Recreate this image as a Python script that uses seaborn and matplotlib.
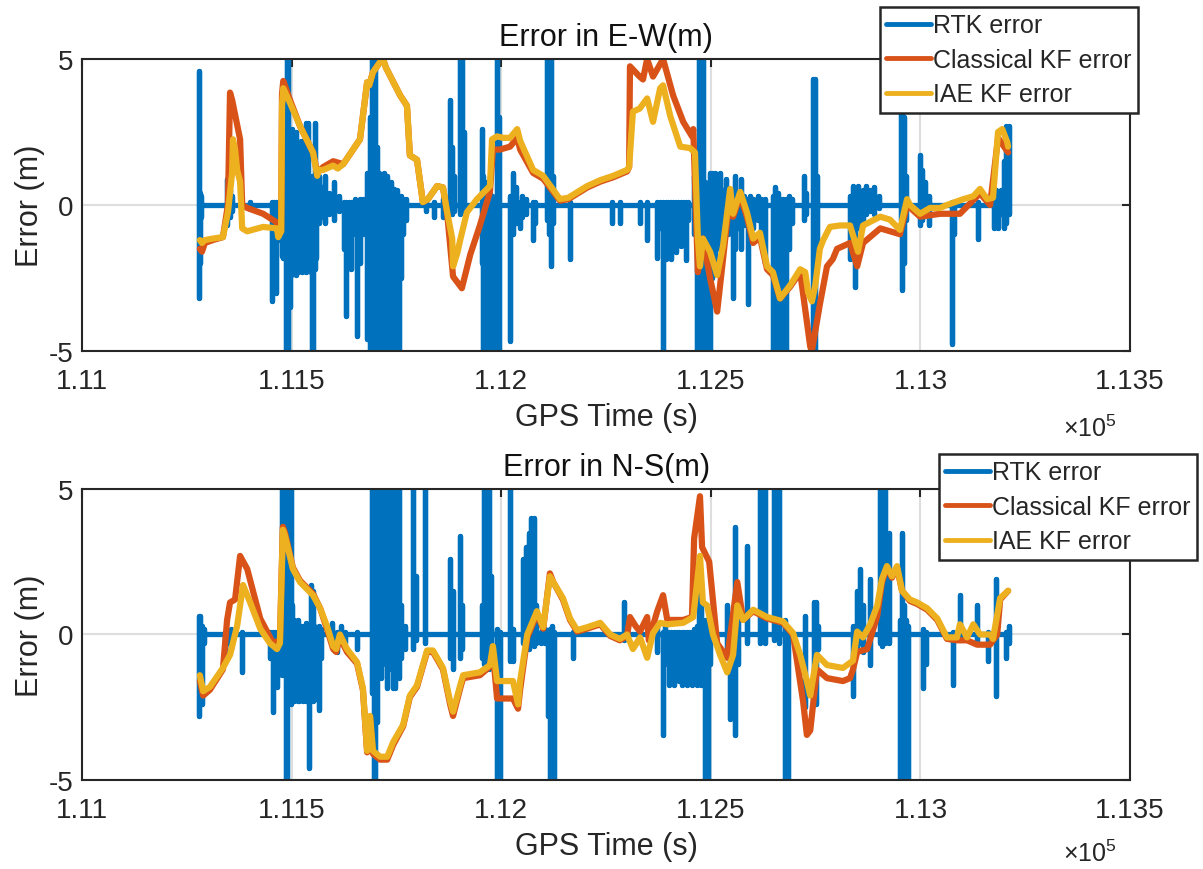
import numpy as np
import matplotlib
matplotlib.use("Agg")
import matplotlib.pyplot as plt
import seaborn as sns

# ---- data ----
# RTK error: dense spiky signal, kept as (GPS time [s], min error, max error) per spike
ew_rtk = [
    (111278, -3.2, 4.6), (111281, -2.0, 0.4), (111284, -0.4, 0.3), (111346, -0.7, 0.9),
    (111352, -0.4, 0.5), (111358, -0.2, 0.3), (111400, -0.15, 0.1), (111452, -3.3, 0.1),
    (111457, -1.5, 0.1), (111463, -3.0, 0.1), (111468, -1.2, 0.1),
    (111477, -1.75, 2.5), (111480, -1.8, 2.8), (111483, -1.7, 3.0), (111486, -5.0, 3.2),
    (111489, -5.0, 5.0), (111492, -5.0, 5.0), (111495, -3.5, 2.5), (111498, -2.4, 2.4),
    (111501, -2.3, 2.6), (111504, -2.3, 2.2), (111507, -2.2, 2.0), (111510, -2.4, 2.5),
    (111513, -2.0, 1.8), (111516, -2.3, 1.6), (111519, -2.2, 1.6), (111522, -1.8, 2.2),
    (111525, -2.3, 1.4), (111528, -1.6, 1.2), (111531, -2.2, 1.3), (111534, -2.3, 2.8),
    (111537, -1.5, 1.0), (111540, -2.0, 2.8), (111543, -1.5, 1.0), (111546, -2.3, 0.8),
    (111549, -5.0, 1.0), (111552, -5.0, 0.8), (111555, -2.2, 2.8), (111558, -1.8, 1.0),
    (111566, -0.6, 1.0), (111572, -0.4, 0.6), (111580, -0.6, 1.0), (111590, -0.3, 0.4),
    (111600, -0.5, 0.8), (111612, -0.2, 0.3), (111625, -1.5, 0.1), (111630, -3.8, 0.1),
    (111636, -1.2, 0.1), (111642, -2.2, 0.1), (111650, -1.0, 0.2), (111656, -4.5, 0.1),
    (111662, -2.0, 0.2), (111670, -1.0, 0.2),
    (111680, -4.6, 1.1), (111684, -2.5, 0.8), (111688, -5.0, 3.0), (111692, -5.0, 5.0),
    (111696, -4.0, 5.0), (111700, -5.0, 5.0), (111704, -3.0, 2.0), (111708, -5.0, 1.1),
    (111712, -2.0, 1.0), (111716, -5.0, 0.8), (111720, -3.5, 1.1), (111724, -5.0, 0.5),
    (111728, -2.0, 1.0), (111732, -5.0, 0.6), (111736, -3.0, 0.8), (111740, -1.5, 0.5),
    (111744, -5.0, 0.55), (111748, -2.0, 0.4), (111752, -3.5, 0.5), (111756, -5.0, 0.3),
    (111760, -2.5, 0.3), (111765, -1.0, 0.2), (111772, -0.5, 0.2),
    (111820, -0.2, 0.1), (111840, -0.4, 0.1), (111862, -0.4, 0.2), (111878, -0.2, 3.6),
    (111882, -0.3, 2.0), (111887, -0.2, 1.0), (111902, -0.3, 5.0), (111906, -0.2, 5.0),
    (111910, -0.1, 2.5), (111953, -2.0, 2.6), (111957, -5.0, 1.0), (111961, -5.0, 0.5),
    (111965, -3.0, 0.8), (111969, -5.0, 0.5), (111973, -4.0, 0.4), (111977, -5.0, 0.3),
    (111990, -5.0, 5.0), (111994, -5.0, 3.0), (112021, -4.65, 0.3), (112027, -1.0, 1.1),
    (112034, -0.6, 0.6), (112045, -0.8, 0.1), (112050, -0.4, 0.3), (112058, -0.3, 0.2),
    (112076, -1.2, 0.1), (112081, -0.6, 0.1), (112110, -0.5, 5.0), (112115, -1.0, 2.0),
    (112119, -2.1, 5.0), (112124, -0.6, 1.0), (112164, -1.85, 0.1), (112263, -0.6, 0.1),
    (112283, -0.6, 0.1), (112331, -0.6, 0.1), (112347, -1.2, 0.1),
    (112372, -1.8, 0.1), (112378, -0.8, 0.1), (112386, -5.0, 0.1), (112392, -1.85, 0.1),
    (112398, -1.5, 0.1), (112404, -1.85, 0.1), (112410, -1.2, 0.1), (112416, -1.6, 0.1),
    (112422, -1.0, 0.1), (112428, -1.4, 0.1), (112434, -0.8, 0.1), (112440, -1.9, 0.1),
    (112446, -0.5, 0.1), (112460, -1.0, 1.0), (112466, -5.0, 1.2), (112471, -5.0, 5.0),
    (112476, -3.0, 5.0), (112481, -5.0, 5.0), (112486, -5.0, 0.8), (112492, -2.0, 0.6),
    (112498, -5.0, 1.1), (112503, -2.5, 1.1), (112510, -2.0, 1.1), (112516, -1.0, 0.8),
    (112522, -1.5, 1.1), (112528, -1.2, 0.5), (112535, -0.8, 0.9), (112542, -1.0, 0.4),
    (112553, -3.2, 0.4), (112557, -1.5, 1.0), (112564, -0.8, 0.3), (112571, -1.5, 0.9),
    (112578, -0.7, 0.3), (112589, -3.4, 0.2), (112594, -1.0, 0.3), (112600, -0.8, 0.2),
    (112612, -0.5, 0.3), (112620, -1.0, 0.2), (112628, -2.0, 0.2), (112648, -5.0, 0.3),
    (112654, -3.0, 0.6), (112660, -5.0, 0.4), (112666, -2.5, 0.2), (112672, -5.0, 0.2),
    (112680, -5.0, 0.2), (112686, -1.5, 0.3), (112694, -0.6, 0.2), (112722, -0.5, 1.0),
    (112728, -0.3, 0.4), (112743, -5.0, 4.3), (112748, -5.0, 4.3), (112752, -2.0, 1.0),
    (112832, -1.85, 0.3), (112838, -0.5, 0.65), (112844, -2.8, 0.5), (112850, -0.8, 0.65),
    (112856, -0.5, 0.3), (112862, -0.7, 0.5), (112870, -0.3, 0.65), (112880, -0.2, 0.5),
    (112890, -0.3, 0.6), (112900, -0.1, 0.3), (112953, -0.5, 4.5), (112957, -2.9, 4.5),
    (112961, -2.0, 3.0), (112966, -0.5, 1.0), (112999, -0.7, 1.7), (113004, -0.5, 1.2),
    (113010, -0.3, 0.8), (113020, -0.7, 0.3), (113075, -4.75, 0.1), (113080, -1.0, 0.1),
    (113136, -1.15, 0.1), (113175, -0.8, 0.3), (113180, -0.5, 0.5), (113186, -0.8, 0.3),
    (113192, -0.3, 0.5), (113200, -0.8, 1.5), (113205, -0.6, 2.7), (113210, -0.3, 2.7),
]

ew_classic = [
    (111281, -1.5), (111286, -1.6), (111293, -1.3), (111312, -1.2), (111336, -1.1), (111348, 0.0),
    (111353, 3.85), (111358, 3.6), (111377, 2.25), (111382, 0.0), (111394, -0.1), (111432, -0.3),
    (111465, -0.6), (111468, -1.0), (111475, -0.9), (111477, 3.8), (111480, 4.25), (111496, 3.6),
    (111520, 2.7), (111551, 1.8), (111561, 1.1), (111575, 1.3), (111599, 1.5), (111623, 1.4),
    (111663, 2.25), (111680, 4.2), (111685, 4.1), (111694, 4.55), (111711, 4.9), (111718, 5.0),
    (111725, 4.7), (111759, 3.75), (111775, 3.4), (111782, 1.7), (111799, 1.55), (111813, 0.1),
    (111825, 0.2), (111847, 0.65), (111861, 0.6), (111871, -0.3), (111885, -2.45), (111906, -2.85),
    (111926, -1.7), (111949, -0.7), (111973, 0.45), (111980, 1.9), (111997, 1.9), (112021, 2.0),
    (112038, 2.3), (112045, 1.9), (112076, 1.1), (112100, 0.9), (112140, 0.15), (112160, 0.2),
    (112205, 0.6), (112236, 0.8), (112267, 0.95), (112300, 1.15), (112305, 1.3), (112307, 4.75),
    (112330, 4.4), (112338, 4.3), (112348, 5.0), (112362, 4.4), (112386, 5.0), (112410, 3.75),
    (112434, 2.85), (112455, 2.35), (112458, 2.6), (112469, -2.3), (112481, -1.15), (112498, -2.5),
    (112515, -3.65), (112529, -1.85), (112546, 0.4), (112553, -0.4), (112570, 0.3), (112586, -0.4),
    (112601, -1.3), (112617, -1.1), (112634, -2.2), (112648, -2.4), (112665, -3.2), (112689, -2.8),
    (112713, -2.3), (112729, -4.0), (112737, -4.85), (112741, -5.0), (112760, -3.4), (112777, -2.1),
    (112791, -1.85), (112801, -1.5), (112832, -1.3), (112849, -2.1), (112863, -1.3), (112904, -0.8),
    (112951, -1.0), (112968, 0.0), (112999, -0.4), (113047, -0.3), (113094, -0.3), (113142, 0.4),
    (113166, 0.0), (113185, 2.3), (113209, 1.8),
]

ew_iae = [
    (111281, -1.2), (111286, -1.3), (111293, -1.2), (111312, -1.15), (111336, -1.1), (111348, -0.25),
    (111358, 1.1), (111360, 2.25), (111365, 1.9), (111370, 1.2), (111377, 0.8), (111382, -0.8),
    (111394, -0.9), (111432, -0.75), (111465, -0.8), (111468, -1.1), (111475, -0.9), (111477, 3.4),
    (111480, 4.0), (111496, 3.5), (111520, 2.7), (111551, 1.8), (111561, 1.0), (111565, 1.2),
    (111575, 1.2), (111599, 1.35), (111610, 1.25), (111623, 1.4), (111663, 2.25), (111680, 4.2),
    (111685, 4.1), (111694, 4.55), (111711, 4.9), (111718, 5.0), (111725, 4.7), (111759, 3.75),
    (111775, 3.4), (111782, 1.7), (111799, 1.55), (111813, 0.1), (111825, 0.2), (111847, 0.65),
    (111861, 0.6), (111871, -0.25), (111883, -1.15), (111885, -2.1), (111895, -1.65), (111902, -1.2),
    (111918, -0.25), (111942, 0.2), (111973, 0.65), (111978, 2.25), (111990, 2.35), (112005, 2.3),
    (112021, 2.3), (112038, 2.6), (112045, 2.2), (112076, 1.2), (112100, 1.0), (112140, 0.2),
    (112160, 0.25), (112205, 0.65), (112236, 0.85), (112267, 1.0), (112300, 1.2), (112305, 1.3),
    (112314, 3.2), (112330, 3.3), (112348, 3.65), (112362, 2.85), (112379, 4.0), (112386, 4.1),
    (112403, 3.05), (112427, 2.0), (112450, 1.95), (112462, 1.8), (112469, -1.15), (112474, -2.1),
    (112481, -1.15), (112498, -1.6), (112515, -2.4), (112529, -1.4), (112546, 0.55), (112553, -0.3),
    (112570, 0.45), (112586, -0.25), (112601, -1.15), (112617, -0.95), (112634, -2.1), (112648, -2.3),
    (112665, -3.2), (112689, -2.75), (112713, -2.2), (112725, -2.3), (112732, -3.0), (112741, -3.3),
    (112749, -2.75), (112760, -1.5), (112768, -1.2), (112784, -0.75), (112808, -0.7), (112832, -0.7),
    (112851, -1.6), (112863, -0.7), (112904, -0.4), (112927, -0.5), (112951, -0.85), (112968, 0.2),
    (112975, 0.0), (112999, -0.3), (113023, -0.1), (113047, -0.1), (113063, 0.0), (113102, 0.2),
    (113126, 0.3), (113142, 0.55), (113159, 0.2), (113173, 0.25), (113185, 2.5), (113195, 2.6),
    (113207, 2.15), (113209, 2.0),
]

ns_rtk = [
    (111278, -2.8, 0.65), (111282, -1.5, 0.65), (111286, -2.4, 0.3), (111292, -0.3, 0.2),
    (111340, -0.6, 0.1), (111346, -0.3, 0.1), (111355, -0.5, 0.2), (111381, -1.3, 0.1),
    (111449, -0.8, 0.1), (111455, -2.65, 0.1), (111460, -1.0, 0.1), (111466, -1.8, 0.1),
    (111478, -1.4, 5.0), (111482, -1.0, 5.0), (111486, -5.0, 5.0), (111490, -5.0, 5.0),
    (111494, -2.0, 5.0), (111498, -2.4, 5.0), (111502, -2.2, 1.0), (111506, -2.3, 0.5),
    (111510, -2.2, 0.3), (111514, -2.3, 0.5), (111518, -2.3, 0.2), (111522, -1.4, 0.3),
    (111526, -2.3, 0.2), (111530, -2.0, 0.3), (111534, -2.3, 0.4), (111538, -1.5, 0.3),
    (111542, -4.6, 0.3), (111546, -2.0, 1.7), (111550, -2.3, 1.5), (111554, -1.8, 0.3),
    (111558, -2.2, 0.2), (111562, -1.0, 0.2), (111566, -2.6, 0.3), (111570, -0.8, 0.2),
    (111596, -0.3, 0.4), (111607, -0.6, 0.1), (111618, -0.2, 0.3), (111628, -0.3, 0.1),
    (111655, -0.5, 0.1), (111692, -2.0, 5.0), (111696, -5.0, 5.0), (111700, -5.0, 5.0),
    (111704, -3.0, 5.0), (111708, -1.5, 5.0), (111712, -1.5, 3.0), (111716, -1.0, 5.0),
    (111727, -1.85, 5.0), (111731, -1.0, 5.0), (111737, -1.2, 2.0), (111742, -1.85, 5.0),
    (111747, -1.85, 5.0), (111752, -1.0, 2.0), (111757, -1.5, 5.0), (111762, -0.8, 1.0),
    (111770, -0.5, 0.3), (111790, -0.5, 5.0), (111796, -0.2, 2.0), (111818, -0.3, 5.0),
    (111878, -0.8, 2.6), (111885, -1.2, 1.5), (111902, -0.8, 3.4), (111907, -0.5, 1.0),
    (111955, -0.8, 1.0), (111960, -1.0, 5.0), (111966, -0.5, 4.0), (111971, -1.2, 5.0),
    (111976, -0.6, 2.0), (111990, -5.0, 0.2), (111997, -5.0, 0.1), (112021, -0.9, 5.0),
    (112029, -0.9, 0.2), (112053, -0.3, 2.6), (112059, -0.2, 3.0), (112065, -0.5, 3.5),
    (112071, -0.3, 4.0), (112077, -0.4, 4.0), (112082, -0.3, 1.0), (112095, -0.3, 0.1),
    (112105, -0.3, 0.2), (112112, -2.8, 0.1), (112116, -5.0, 0.2), (112121, -2.0, 0.3),
    (112126, -5.0, 0.1), (112172, -0.8, 0.1), (112292, -0.2, 1.1), (112372, -0.6, 0.3),
    (112385, -3.45, 0.1), (112390, -1.0, 0.3), (112400, -1.75, 0.1), (112406, -1.2, 0.1),
    (112412, -1.75, 0.1), (112418, -1.0, 0.1), (112424, -1.6, 0.1), (112430, -1.75, 0.1),
    (112436, -1.0, 0.1), (112442, -1.75, 0.1), (112448, -1.2, 0.1), (112454, -1.75, 0.1),
    (112460, -1.2, 0.2), (112466, -1.75, 0.3), (112472, -1.5, 1.7), (112477, -1.75, 1.0),
    (112486, -5.0, 0.5), (112492, -5.0, 0.3), (112498, -1.0, 0.1), (112539, -0.5, 1.0),
    (112546, -2.9, 0.6), (112558, -3.45, 3.7), (112564, -1.0, 1.0), (112587, -0.3, 3.05),
    (112618, -0.3, 5.0), (112624, -0.2, 3.0), (112630, -0.3, 5.0), (112650, -0.2, 5.0),
    (112656, -0.1, 4.0), (112662, -0.3, 5.0), (112677, -5.0, 0.5), (112683, -5.0, 0.2),
    (112724, -2.5, 0.65), (112745, -1.5, 1.1), (112750, -2.4, 1.1), (112756, -0.5, 0.3),
    (112840, -2.1, 0.3), (112848, -0.4, 1.5), (112855, -0.3, 2.25), (112862, -0.6, 1.0),
    (112879, -1.05, 1.9), (112903, -0.3, 5.0), (112909, -0.4, 5.0), (112915, -0.3, 5.0),
    (112921, -0.2, 3.0), (112926, -0.3, 3.5), (112951, -5.0, 0.5), (112955, -5.0, 3.5),
    (112960, -5.0, 1.0), (112965, -3.0, 0.5), (112970, -5.0, 0.3), (113007, -1.85, 0.2),
    (113013, -1.0, 0.1), (113078, -1.75, 0.1), (113094, -0.2, 1.35), (113134, -0.3, 1.0),
    (113160, -0.9, 0.1), (113181, -2.1, 1.9), (113205, -0.8, 0.1), (113210, -0.3, 0.3),
]

ns_classic = [
    (111281, -1.6), (111289, -2.1), (111305, -1.9), (111336, -1.2), (111346, 0.5), (111353, 1.1),
    (111365, 1.2), (111377, 2.7), (111394, 2.25), (111425, 0.55), (111456, -0.3), (111472, -0.2),
    (111479, 3.7), (111484, 3.5), (111503, 2.3), (111520, 1.85), (111551, 1.4), (111568, 0.9),
    (111584, 0.2), (111599, -0.5), (111606, -0.6), (111615, -0.1), (111632, -0.6), (111656, -1.0),
    (111670, -1.9), (111680, -4.05), (111687, -2.9), (111694, -4.1), (111711, -4.3), (111728, -4.3),
    (111742, -3.8), (111766, -3.15), (111782, -2.15), (111799, -1.8), (111823, -0.6), (111837, -0.6),
    (111861, -1.2), (111878, -2.4), (111885, -2.8), (111902, -1.85), (111909, -1.5), (111949, -1.4),
    (111973, -1.1), (111980, -0.6), (111990, -2.2), (112028, -2.2), (112040, -2.55), (112045, -1.9),
    (112062, -0.1), (112085, 0.7), (112100, 0.2), (112116, 2.1), (112124, 1.8), (112147, 1.2),
    (112164, 0.5), (112181, 0.1), (112205, 0.2), (112236, 0.35), (112260, -0.05), (112283, -0.2),
    (112300, -0.05), (112307, 0.6), (112320, 0.3), (112331, 0.1), (112348, 0.6), (112352, -0.2),
    (112372, 0.8), (112386, 1.35), (112396, 0.5), (112434, 0.5), (112455, 0.6), (112460, 3.3),
    (112474, 4.75), (112479, 3.0), (112496, 2.5), (112515, -0.3), (112539, -0.8), (112563, 1.8),
    (112577, 0.5), (112601, 0.8), (112634, 0.55), (112672, 0.4), (112696, 0.0), (112720, -2.3),
    (112729, -3.45), (112737, -3.3), (112753, -1.2), (112777, -1.5), (112815, -1.6), (112832, -1.5),
    (112839, -1.2), (112849, -0.6), (112873, -0.5), (112897, 0.65), (112908, 1.8), (112920, 2.3),
    (112932, 1.95), (112944, 2.3), (112956, 1.5), (112975, 1.15), (112992, 1.05), (113016, 0.85),
    (113040, 0.5), (113063, -0.15), (113087, -0.2), (113111, -0.2), (113135, -0.35), (113166, -0.35),
    (113183, 0.0), (113190, 1.2), (113209, 1.5),
]

ns_iae = [
    (111281, -1.4), (111289, -1.95), (111305, -1.8), (111336, -1.15), (111353, -0.7), (111370, 0.3),
    (111384, 1.7), (111401, 1.1), (111425, 0.2), (111448, -0.3), (111465, -0.5), (111472, -0.3),
    (111479, 3.6), (111484, 3.4), (111503, 2.25), (111520, 1.8), (111551, 1.35), (111568, 0.9),
    (111584, 0.3), (111599, -0.4), (111606, -0.5), (111615, 0.0), (111632, -0.5), (111656, -0.95),
    (111670, -1.85), (111680, -4.0), (111687, -2.8), (111694, -4.0), (111711, -4.2), (111728, -4.2),
    (111742, -3.7), (111766, -3.1), (111782, -2.1), (111799, -1.75), (111823, -0.55), (111837, -0.55),
    (111861, -1.15), (111878, -2.3), (111885, -2.65), (111902, -1.75), (111909, -1.4), (111949, -1.3),
    (111973, -1.05), (111980, -0.4), (111990, -1.6), (112028, -1.6), (112040, -2.4), (112045, -1.6),
    (112062, 0.0), (112085, 0.8), (112100, 0.25), (112116, 2.0), (112124, 1.8), (112147, 1.25),
    (112164, 0.55), (112181, 0.15), (112205, 0.25), (112236, 0.4), (112260, 0.0), (112283, -0.15),
    (112300, 0.0), (112314, -0.5), (112331, -0.1), (112348, -0.8), (112362, 0.05), (112379, 0.4),
    (112396, 0.35), (112434, 0.4), (112458, 0.6), (112474, 2.7), (112481, 1.1), (112491, 1.0),
    (112505, 0.0), (112522, -0.7), (112539, -1.3), (112553, -0.7), (112563, 1.0), (112577, 0.5),
    (112601, 0.85), (112634, 0.6), (112672, 0.45), (112696, 0.05), (112713, -0.7), (112729, -1.6),
    (112737, -2.1), (112753, -0.7), (112777, -1.05), (112815, -1.15), (112839, -0.9), (112849, 0.1),
    (112863, -0.1), (112880, 0.35), (112897, 1.0), (112908, 1.9), (112920, 2.35), (112932, 2.0),
    (112944, 2.35), (112956, 1.5), (112975, 1.2), (112992, 1.1), (113016, 0.9), (113040, 0.55),
    (113063, -0.1), (113087, -0.1), (113094, 0.35), (113111, -0.1), (113126, 0.35), (113142, 0.0),
    (113166, 0.0), (113173, -0.15), (113190, 1.25), (113209, 1.5),
]

x_ticks = [111000, 111500, 112000, 112500, 113000, 113500]
y_ticks = [-5, 0, 5]
series_labels = ["RTK error", "Classical KF error", "IAE KF error"]
panel_titles = ["Error in E-W(m)", "Error in N-S(m)"]

COLORS = ["#0072BD", "#D95319", "#EDB120"]
WIDTHS = [3.8, 4.5, 4.5]


def spike_path(spikes):
    # each spike: vertical stroke from the baseline to max, down to min, back to baseline
    arr = np.array(spikes)
    t = np.repeat(arr[:, 0], 4)
    zero = np.zeros(len(arr))
    y = np.column_stack([zero, arr[:, 2], arr[:, 1], zero]).ravel()
    return t, y


sns.set_theme(style="white")
plt.rcParams["font.family"] = ["Liberation Sans", "DejaVu Sans"]
plt.rcParams["axes.unicode_minus"] = False
plt.rcParams["mathtext.fontset"] = "custom"
plt.rcParams["mathtext.rm"] = "Liberation Sans"

fig = plt.figure(figsize=(12.03, 8.70), dpi=100)
ax_top = fig.add_axes([0.0682, 0.5954, 0.8712, 0.3356])
ax_bot = fig.add_axes([0.0682, 0.1023, 0.8712, 0.3345])

panels = [
    (ax_top, panel_titles[0], ew_rtk, ew_classic, ew_iae, (1138 / 1203, 1 - 8 / 870), 1 - 442 / 870),
    (ax_bot, panel_titles[1], ns_rtk, ns_classic, ns_iae, (1197 / 1203, 1 - 455 / 870), 1 - 867 / 870),
]

for ax, title, rtk, classic, iae, leg_anchor, exp_y in panels:
    t_r, y_r = spike_path(rtk)
    sns.lineplot(x=t_r, y=y_r, ax=ax, color=COLORS[0], lw=WIDTHS[0],
                 sort=False, estimator=None, label=series_labels[0])
    for pts, lab, col, lw in zip([classic, iae], series_labels[1:], COLORS[1:], WIDTHS[1:]):
        arr = np.array(pts)
        sns.lineplot(x=arr[:, 0], y=arr[:, 1], ax=ax, color=col, lw=lw,
                     sort=False, estimator=None, label=lab)
    ax.set_xlim(111000, 113500)
    ax.set_ylim(-5, 5)
    ax.set_xticks(x_ticks)
    ax.set_xticklabels([f"{v / 1e5:g}" for v in x_ticks])
    ax.set_yticks(y_ticks)
    ax.set_yticklabels([str(v) for v in y_ticks])
    ax.grid(True, color="#dedede", lw=1.5)
    ax.set_axisbelow(True)
    ax.tick_params(direction="in", length=6, width=1.5, colors="#262626",
                   labelsize=20, top=True, right=True, labelcolor="#262626")
    ax.tick_params(axis="x", pad=12)
    ax.tick_params(axis="y", pad=6)
    for sp in ax.spines.values():
        sp.set_color("#262626")
        sp.set_linewidth(1.5)
    ax.set_title(title, fontsize=22, pad=10, color="#111111")
    ax.set_xlabel("GPS Time (s)", fontsize=22, labelpad=6, color="#262626")
    ax.set_ylabel("Error (m)", fontsize=22, labelpad=3, color="#262626")
    leg = ax.legend(loc="upper right", bbox_to_anchor=leg_anchor, bbox_transform=fig.transFigure,
                    fontsize=18, frameon=True, fancybox=False, framealpha=1,
                    edgecolor="#262626", borderpad=0.25, labelspacing=0.42,
                    handlelength=1.8, handletextpad=0.1, borderaxespad=0)
    leg.get_frame().set_linewidth(1.8)
    for line in leg.get_lines():
        line.set_linewidth(3.5)
    fig.text(1063 / 1203, exp_y, r"$\times\mathregular{10^{5}}$", fontsize=18,
             color="#262626", va="bottom")

fig.savefig("out.png", dpi=100)
